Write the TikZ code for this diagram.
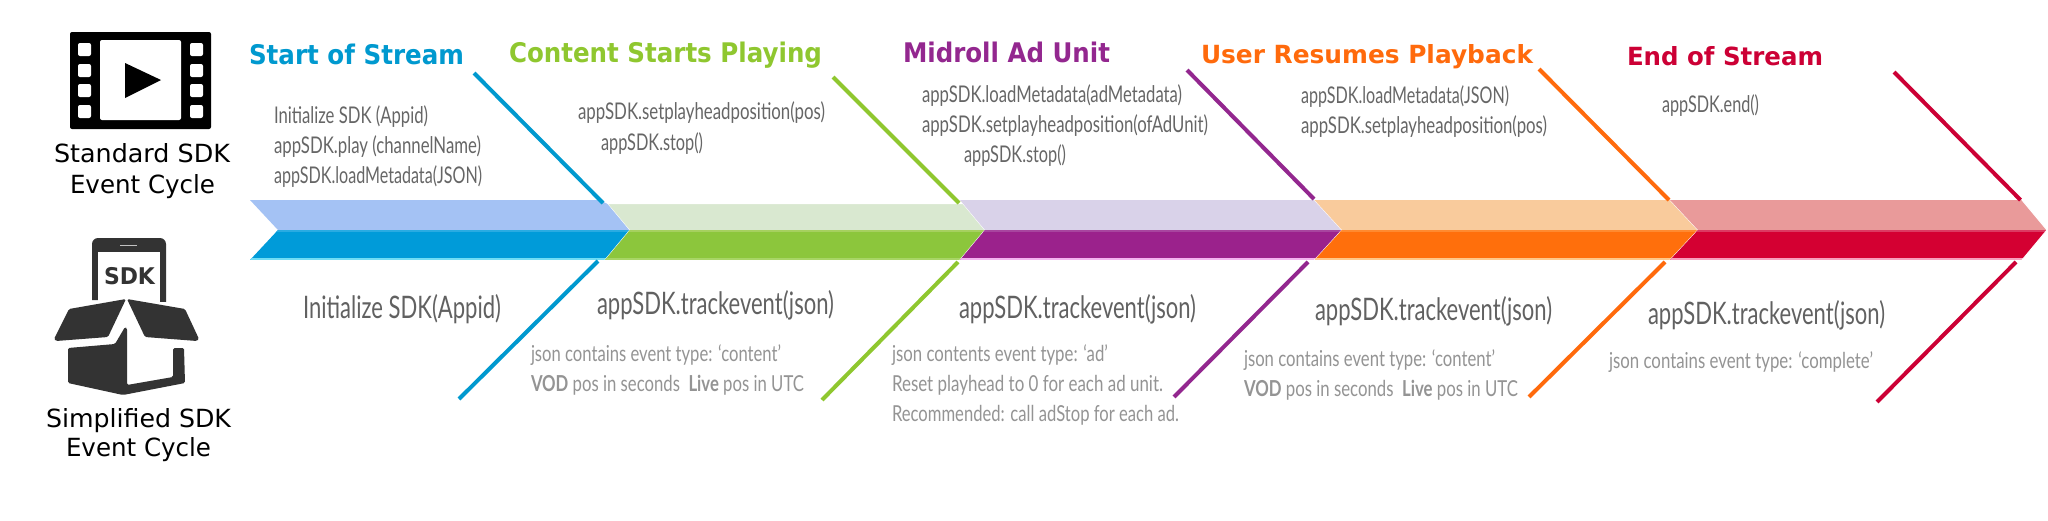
\documentclass[tikz,border=0pt]{standalone}
\usepackage{fontspec}
\usepackage{graphicx}
\setmainfont{DejaVu Sans}
\newfontfamily\bodyfnt{Lato}
\newcommand{\fitw}[2]{\resizebox{#1pt}{\height}{#2}}
\definecolor{cblue}{HTML}{0099CF}
\definecolor{cgreen}{HTML}{8FC72F}
\definecolor{cpurple}{HTML}{93278F}
\definecolor{corange}{HTML}{FF6A0C}
\definecolor{cred}{HTML}{CC0035}
\definecolor{icondark}{HTML}{333333}
\definecolor{blueL}{HTML}{A4C2F4}\definecolor{blueS}{HTML}{29ABE2}\definecolor{blueD}{HTML}{009BD9}\definecolor{blueR}{HTML}{70DDF5}
\definecolor{greenL}{HTML}{D9E8D0}\definecolor{greenS}{HTML}{A6D05F}\definecolor{greenD}{HTML}{8CC63C}\definecolor{greenR}{HTML}{A8D566}
\definecolor{purpleL}{HTML}{D9D2E9}\definecolor{purpleS}{HTML}{A8459F}\definecolor{purpleD}{HTML}{9B228C}\definecolor{purpleR}{HTML}{F3B4F0}
\definecolor{orangeL}{HTML}{F9CB9C}\definecolor{orangeS}{HTML}{FF8A30}\definecolor{orangeD}{HTML}{FF6F0C}\definecolor{orangeR}{HTML}{FFC88A}
\definecolor{redL}{HTML}{E99A9A}\definecolor{redS}{HTML}{DC3A62}\definecolor{redD}{HTML}{D40032}\definecolor{redR}{HTML}{F7A0BC}
\tikzset{
  txt/.style={inner sep=0,outer sep=0,anchor=base west},
  head/.style={txt,font=\bfseries\fontsize{27}{27}\selectfont},
  headsm/.style={txt,font=\bfseries\fontsize{25}{25}\selectfont},
  capt/.style={txt,text=black,font=\fontsize{25}{25}\selectfont},
  callt/.style={txt,text=black!60,font=\bodyfnt\fontsize{23}{23}\selectfont},
  bigt/.style={txt,text=black!62,font=\bodyfnt\fontsize{31}{31}\selectfont},
  notet/.style={txt,text=black!42,font=\bodyfnt\fontsize{22}{22}\selectfont},
  rib/.style={line width=4pt}
}
\newcommand{\chev}[8]{% xl tipl xr tipr light strip dark rim
  \fill[#5] (#1,200) -- (#3,200) -- (#4,230) -- (#2,230) -- cycle;
  \begin{scope}
    \clip (#2,230) -- (#4,230) -- (#3,260) -- (#1,260) -- cycle;
    \fill[#7] (#1,230) rectangle (#4,260);
    \fill[#6] (#1,229) rectangle (#4,232);
    \fill[#8] (#1,258) rectangle (#4,260);
  \end{scope}
  \draw[white,line width=1pt] (#3,200) -- (#4,230) -- (#3,260);
}
\begin{document}
\begin{tikzpicture}[x=1pt,y=-1pt]
\useasboundingbox (0,0) rectangle (2048,520);
\fill[white] (0,0) rectangle (2048,520);
% band
\chev{250}{278}{605}{630}{blueL}{blueS}{blueD}{blueR}
\chev{605}{630}{960}{985}{greenL}{greenS}{greenD}{greenR}
\fill[white] (600,200) -- (960,200) -- (963,204) -- (608,204) -- cycle;
\chev{960}{985}{1314.5}{1342}{purpleL}{purpleS}{purpleD}{purpleR}
\chev{1314.5}{1342}{1670}{1698}{orangeL}{orangeS}{orangeD}{orangeR}
\chev{1670}{1698}{2022}{2047}{redL}{redS}{redD}{redR}
% ribs
\foreach \n/\xa/\ya/\xb/\yb/\c in {
  a/474/73/603/203/cblue, b/459/399/598/261/cblue,
  c/833/77/959/203/cgreen, d/822/400/958/262/cgreen,
  e/1187/70/1314/199/cpurple, f/1174/397/1308/262/cpurple,
  g/1539/69/1669/200/corange, h/1529/397/1665/262/corange,
  i/1894/72/2020.5/200/cred, j/1877/402/2016/262/cred}{
  \coordinate (\n1) at (\xa,\ya);
  \coordinate (\n2) at (\xb,\yb);
  \draw[rib,\c] (\n1) -- (\n2);
}
% film icon
\fill[black,rounded corners=2pt] (70,32) rectangle (211,129);
\fill[white,rounded corners=2pt] (100,40) rectangle (181,120);
\foreach \y in {43,64,84,105}{
  \fill[white,rounded corners=2pt] (78,\y) rectangle (91,\y+13);
  \fill[white,rounded corners=2pt] (190,\y) rectangle (203,\y+13);
}
\fill[black] (125,63) -- (125,98) -- (161,80) -- cycle;
\node[capt] (stdA) at (54,162) {\fitw{176}{Standard SDK}};
\node[capt] (stdB) at (70,193) {\fitw{145}{Event Cycle}};
% SDK icon
\fill[icondark] (92,300) {[rounded corners=6pt] -- (92,238) -- (166,238)} -- (166,302) -- cycle;
\fill[white] (98,252) rectangle (160,303);
\fill[white!70!icondark] (120,244.5) rectangle (137,245.8);
\node[txt,text=icondark,font=\bfseries\fontsize{23}{23}\selectfont] (sdk) at (104,284) {\fitw{51}{SDK}};
\fill[icondark,rounded corners=1.5pt] (126,299) -- (69,309) -- (54,339) -- (56,341) -- (108,337) -- cycle;
\fill[icondark,rounded corners=1.5pt] (127,299) -- (185,309) -- (199,339) -- (197,341) -- (145,337) -- cycle;
\fill[icondark,rounded corners=1.5pt] (68,348) -- (115,344) -- (125,327) -- (127,328) -- (127,385) -- (173,377) -- (173,348) -- (184,348) -- (185,383) -- (123,395) -- (68,383) -- cycle;
\node[capt] (simA) at (46,427) {\fitw{185}{Simplified SDK}};
\node[capt] (simB) at (66,456) {\fitw{145}{Event Cycle}};
% heads
\node[head,text=cblue] (h1) at (249,64) {\fitw{215}{Start of Stream}};
\node[head,text=cgreen] (h2) at (509,62) {\fitw{313}{Content Starts Playing}};
\node[head,text=cpurple] (h3) at (903,62) {\fitw{207}{Midroll Ad Unit}};
\node[headsm,text=corange] (h4) at (1201,63) {\fitw{332}{User Resumes Playback}};
\node[headsm,text=cred] (h5) at (1627,65) {\fitw{196}{End of Stream}};
% calls above
\node[callt] (u1) at (274,123) {\fitw{154}{Initialize SDK (Appid)}};
\node[callt] (u2) at (274,153) {\fitw{207}{appSDK.play (channelName)}};
\node[callt] (u3) at (274,183) {\fitw{208}{appSDK.loadMetadata(JSON)}};
\node[callt] (u4) at (578,119) {\fitw{247}{appSDK.setplayheadposition(pos)}};
\node[callt] (u5) at (601,150) {\fitw{102}{appSDK.stop()}};
\node[callt] (u6) at (922,102) {\fitw{260}{appSDK.loadMetadata(adMetadata)}};
\node[callt] (u7) at (922,132) {\fitw{286}{appSDK.setplayheadposition(ofAdUnit)}};
\node[callt] (u8) at (964,162) {\fitw{102}{appSDK.stop()}};
\node[callt] (u9) at (1301,103) {\fitw{208}{appSDK.loadMetadata(JSON)}};
\node[callt] (u10) at (1301,133) {\fitw{246}{appSDK.setplayheadposition(pos)}};
\node[callt] (u11) at (1662,112) {\fitw{97}{appSDK.end()}};
% large below
\node[bigt] (b1) at (303,318) {\fitw{198}{Initialize SDK(Appid)}};
\node[bigt] (b2) at (597,314) {\fitw{237}{appSDK.trackevent(json)}};
\node[bigt] (b3) at (959,318) {\fitw{237}{appSDK.trackevent(json)}};
\node[bigt] (b4) at (1315,320) {\fitw{237}{appSDK.trackevent(json)}};
\node[bigt] (b5) at (1648,324) {\fitw{237}{appSDK.trackevent(json)}};
% notes
\node[notet] (n1) at (531,361) {\fitw{250}{json contains event type: ‘content’}};
\node[notet] (n2) at (531,391) {\fitw{273}{\textbf{VOD} pos in seconds\ \ \textbf{Live} pos in UTC}};
\node[notet] (n3) at (892,361) {\fitw{216}{json contents event type: ‘ad’}};
\node[notet] (n4) at (892,391) {\fitw{271}{Reset playhead to 0 for each ad unit.}};
\node[notet] (n5) at (892,421) {\fitw{287}{Recommended: call adStop for each ad.}};
\node[notet] (n6) at (1244,366) {\fitw{251}{json contains event type: ‘content’}};
\node[notet] (n7) at (1244,396) {\fitw{274}{\textbf{VOD} pos in seconds\ \ \textbf{Live} pos in UTC}};
\node[notet] (n8) at (1609,368) {\fitw{264}{json contains event type: ‘complete’}};
\end{tikzpicture}
\end{document}
